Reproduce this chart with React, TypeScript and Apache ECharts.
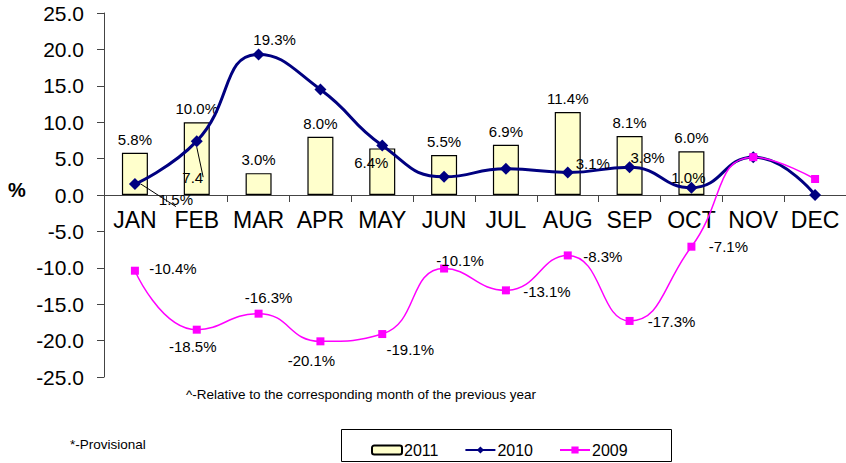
import React, { useEffect, useRef } from "react";
import * as echarts from "echarts";

const months = ["JAN", "FEB", "MAR", "APR", "MAY", "JUN", "JUL", "AUG", "SEP", "OCT", "NOV", "DEC"];
const s2011 = [5.8, 10.0, 3.0, 8.0, 6.4, 5.5, 6.9, 11.4, 8.1, 6.0, null, null];
const s2010 = [1.5, 7.4, 19.3, 14.5, 6.8, 2.5, 3.6, 3.1, 3.8, 1.0, 5.2, 0.0];
const s2009 = [-10.4, -18.5, -16.3, -20.1, -19.1, -10.1, -13.1, -8.3, -17.3, -7.1, 5.2, 2.2];
const yTicks = { min: -25, max: 25, interval: 5 };

// label texts (null = no label)
const lbl2010 = ["1.5%", "7.4", "19.3%", null, null, null, null, "3.1%", "3.8%", "1.0%", null, null];
const lbl2009 = ["-10.4%", "-18.5%", "-16.3%", "-20.1%", "-19.1%", "-10.1%", "-13.1%", "-8.3%", "-17.3%", "-7.1%", null, null];

// label offsets from point centre (style only)
const off2010: (number[] | null)[] = [[41, 15], [-4, 36], [16, -15], null, null, null, null, [25, -9], [18, -10], [-3, -10], null, null];
const leader2010 = [true, true, false, false, false, false, false, false, false, false, false, false];
const off2009: (number[] | null)[] = [[38, -2], [-4, 17], [10, -16], [-9, 19], [28, 15], [16, -8], [41, 1], [35, 1], [42, 1], [37, 0], null, null];

const FONT = "'Liberation Sans', Arial, sans-serif";
const GRID = { left: 104, right: -5, top: 13, bottom: 86 };
const H = 463;

export default function App() {
  const ref = useRef<HTMLDivElement>(null);
  useEffect(() => {
    if (!ref.current) return;
    const chart = echarts.init(ref.current, null, { renderer: "svg" });
    const labelBase = { fontFamily: FONT, fontSize: 15, color: "#000" };

    // place the category axis where the value axis crosses zero
    const gridH = H - GRID.top - GRID.bottom;
    const zeroOffset = -gridH * (0 - yTicks.min) / (yTicks.max - yTicks.min);

    const barData = s2011.map((v, i) => {
      if (v === null) return v;
      const item: any = { value: v };
      if (i === 4) {
        item.label = { position: "insideTop", offset: [-11, 1] };
      }
      return item;
    });

    const d2010 = s2010.map((v, i) => {
      const item: any = { value: v };
      if (lbl2010[i]) {
        item.label = {
          show: true,
          position: "inside",
          offset: off2010[i],
          formatter: lbl2010[i],
          ...labelBase,
        };
        if (leader2010[i]) {
          item.labelLine = { show: true, lineStyle: { color: "#000", width: 1 } };
        }
      }
      return item;
    });

    const d2009 = s2009.map((v, i) => {
      const item: any = { value: v };
      if (lbl2009[i]) {
        item.label = {
          show: true,
          position: "inside",
          offset: off2009[i],
          formatter: lbl2009[i],
          ...labelBase,
        };
      }
      return item;
    });

    chart.setOption({
      animation: false,
      backgroundColor: "#fff",
      textStyle: { fontFamily: FONT },
      grid: { ...GRID, containLabel: false },
      xAxis: {
        type: "category",
        data: months,
        position: "bottom",
        offset: zeroOffset,
        axisLine: { onZero: false, lineStyle: { color: "#444", width: 1 } },
        axisTick: { show: true, length: 7, lineStyle: { color: "#444" } },
        axisLabel: { fontFamily: FONT, fontSize: 23, color: "#000", margin: 13, interval: 0 },
        splitLine: { show: false },
      },
      yAxis: {
        type: "value",
        min: yTicks.min,
        max: yTicks.max,
        interval: yTicks.interval,
        axisLine: { show: true, onZero: false, lineStyle: { color: "#444", width: 1 } },
        axisTick: { show: true, length: 7, lineStyle: { color: "#444" } },
        axisLabel: {
          fontFamily: FONT,
          fontSize: 21,
          color: "#000",
          margin: 20,
          formatter: (v: number) => v.toFixed(1),
        },
        splitLine: { show: false },
      },
      legend: {
        left: 366,
        top: 437,
        itemWidth: 30,
        itemHeight: 9,
        itemGap: 26,
        textStyle: { fontFamily: FONT, fontSize: 16, color: "#000", padding: [0, 0, 0, -3] },
        data: ["2011", "2010", "2009"],
      },
      graphic: [
        {
          type: "rect",
          shape: { x: 341.5, y: 429.5, width: 330, height: 32 },
          style: { fill: "#fff", stroke: "#000", lineWidth: 1 },
          z: -10,
        },
        {
          type: "text",
          x: 8,
          y: 190,
          style: { text: "%", fontFamily: FONT, fontSize: 20, fontWeight: "bold", fill: "#000", verticalAlign: "middle" },
        },
        {
          type: "text",
          x: 186,
          y: 394,
          style: {
            text: "^-Relative to the corresponding month of the previous year",
            fontFamily: FONT,
            fontSize: 13.5,
            fill: "#000",
            verticalAlign: "middle",
          },
        },
        {
          type: "text",
          x: 70,
          y: 444,
          style: { text: "*-Provisional", fontFamily: FONT, fontSize: 13.5, fill: "#000", verticalAlign: "middle" },
        },
      ],
      series: [
        {
          name: "2011",
          type: "bar",
          data: barData,
          barWidth: 26,
          itemStyle: { color: "#FFFFCC", borderColor: "#000", borderWidth: 1.2 },
          label: {
            show: true,
            position: "top",
            distance: 6,
            ...labelBase,
            formatter: (p: any) => Number(p.value).toFixed(1) + "%",
          },
          z: 1,
        },
        {
          name: "2010",
          type: "line",
          data: d2010,
          smooth: true,
          symbol: "diamond",
          symbolSize: 12,
          lineStyle: { color: "#000080", width: 3 },
          itemStyle: { color: "#000080" },
          label: { show: false },
          z: 3,
        },
        {
          name: "2009",
          type: "line",
          data: d2009,
          smooth: true,
          symbol: "rect",
          symbolSize: 8,
          lineStyle: { color: "#FF00FF", width: 1.5 },
          itemStyle: { color: "#FF00FF" },
          label: { show: false },
          z: 4,
        },
      ],
    });
    return () => chart.dispose();
  }, []);

  return (
    <div
      ref={ref}
      style={{ position: "fixed", left: 0, top: 0, width: 846, height: 463, background: "#fff" }}
    />
  );
}
